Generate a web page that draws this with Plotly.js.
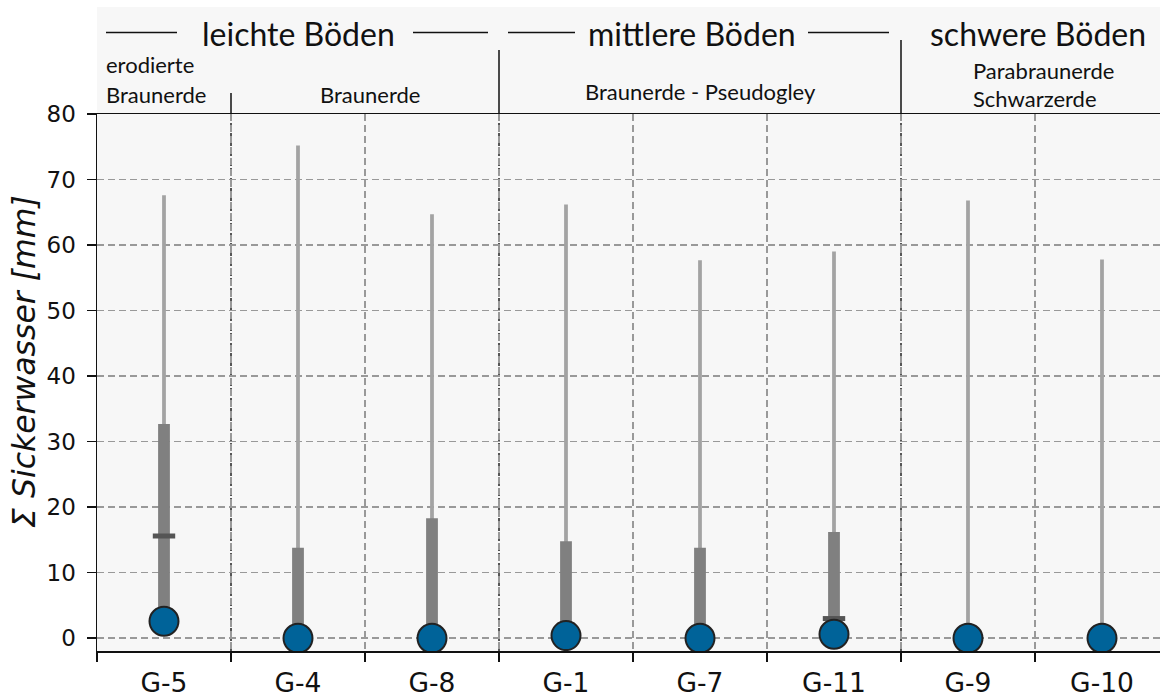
<!DOCTYPE html>
<html>
<head>
<meta charset="utf-8">
<script src="https://cdn.plot.ly/plotly-3.0.1.min.js"></script>
<style>
  html, body { margin: 0; padding: 0; background: #ffffff; }
  #chart { width: 1160px; height: 700px; }
</style>
</head>
<body>
<div id="chart"></div>
<script>
// ---- data ----
const categories  = ['G-5', 'G-4', 'G-8', 'G-1', 'G-7', 'G-11', 'G-9', 'G-10'];
const whiskerLow  = [0.5, 0, 0, 0, 0, 0, 0, 0];
const whiskerHigh = [67.6, 75.2, 64.7, 66.2, 57.7, 59.0, 66.8, 57.8];
const boxLow      = [0.5, 0, 0, 0, 0, 0, 0, 0];
const boxHigh     = [32.7, 13.8, 18.3, 14.8, 13.8, 16.2, 0, 0];
const medians     = [15.6, 0, 0, 0, 0, 3.0, 0, 0];
const points      = [2.6, 0, 0, 0.4, 0, 0.6, 0, 0];
const yTicks      = [0, 10, 20, 30, 40, 50, 60, 70, 80];

const groupTitles   = ['leichte Böden', 'mittlere Böden', 'schwere Böden'];
const groupBoundaries = [0.5, 2.5, 5.5];   // category boundaries (between indices)
const soilLabels = ['erodierte', 'Braunerde', 'Braunerde', 'Braunerde - Pseudogley', 'Parabraunerde', 'Schwarzerde'];

// ---- geometry helpers (layout only) ----
const W = 1160, H = 700;
const M = {l: 97, r: 0, t: 114, b: 49};
const plotW = W - M.l - M.r, plotH = H - M.t - M.b;
const xRange = [-0.5, -0.5 + plotW / 134];
const yRange = [-1.95, 80];
const px = v => (v - M.l) / plotW;          // pixel x -> paper
const py = v => (H - M.b - v) / plotH;      // pixel y -> paper
const idx2paper = i => (i - xRange[0]) / (xRange[1] - xRange[0]);

const whiskerSpan = whiskerHigh.map((v, i) => v - whiskerLow[i]);
const boxSpan = boxHigh.map((v, i) => v - boxLow[i]);

const traces = [
  {
    type: 'bar', x: categories, y: whiskerSpan, base: whiskerLow,
    width: categories.map(() => 0.028),
    marker: {color: '#a3a3a3', line: {width: 0}},
    hoverinfo: 'skip', showlegend: false
  },
  {
    type: 'bar', x: categories, y: boxSpan, base: boxLow,
    width: categories.map(() => 0.088),
    marker: {color: '#808080', line: {width: 0}},
    hoverinfo: 'skip', showlegend: false
  },
  {
    type: 'scatter', mode: 'markers', x: categories, y: medians,
    marker: {symbol: 'line-ew', size: 16, color: '#555555', line: {color: '#555555', width: 5}},
    hoverinfo: 'skip', showlegend: false
  },
  {
    type: 'scatter', mode: 'markers', x: categories, y: points,
    marker: {symbol: 'circle', size: 29, color: '#006399', line: {color: '#222222', width: 2}},
    showlegend: false
  }
];

const headerFont = {family: 'Lato, "Open Sans", sans-serif', size: 32, color: '#111111'};
const subFont = {family: 'Lato, "Open Sans", sans-serif', size: 22, color: '#111111'};

const annotations = [
  {text: groupTitles[0], x: px(298.5), y: py(33), font: headerFont},
  {text: groupTitles[1], x: px(691.5), y: py(33), font: headerFont},
  {text: groupTitles[2], x: px(1037.5), y: py(33), font: headerFont},
  {text: soilLabels[0], x: px(104), y: py(65), xanchor: 'left', font: subFont},
  {text: soilLabels[1], x: px(104), y: py(95), xanchor: 'left', font: subFont},
  {text: soilLabels[2], x: px(370), y: py(95), font: subFont},
  {text: soilLabels[3], x: px(700), y: py(91), font: subFont},
  {text: soilLabels[4], x: px(971), y: py(70), xanchor: 'left', font: subFont},
  {text: soilLabels[5], x: px(971), y: py(99), xanchor: 'left', font: subFont},
  {text: 'Σ Sickerwasser [mm]', x: px(24), y: py(362), textangle: -90,
   font: {family: '"DejaVu Sans", sans-serif', size: 31.5, style: 'italic', color: '#111111'}}
].map(a => Object.assign({xref: 'paper', yref: 'paper', showarrow: false, xanchor: 'center', yanchor: 'middle'}, a));

const shapes = [
  // header background
  {type: 'rect', xref: 'paper', yref: 'paper', x0: 0, x1: 1, y0: 1, y1: py(7),
   fillcolor: '#f7f7f7', line: {width: 0}, layer: 'below'},
  // decorative dashes beside group titles
  ...[[106, 177], [413, 488], [508, 575], [808, 889]].map(([a, b]) => ({
    type: 'line', xref: 'paper', yref: 'paper', x0: px(a), x1: px(b), y0: py(32.5), y1: py(32.5),
    line: {color: '#111111', width: 1.5}, layer: 'above'
  })),
];
// group boundary lines: solid in header, fine dashed in plot
const headerTops = [93, 50, 40];
groupBoundaries.forEach((b, k) => {
  const xp = idx2paper(b);
  shapes.push({type: 'line', xref: 'paper', yref: 'paper', x0: xp, x1: xp, y0: 1, y1: py(headerTops[k]),
    line: {color: '#111111', width: 1.5}, layer: 'above'});
  shapes.push({type: 'line', xref: 'paper', yref: 'paper', x0: xp, x1: xp, y0: 0, y1: 1,
    line: {color: '#111111', width: 1.4, dash: '3px,2px'}, layer: 'between'});
});

const layout = {
  width: W, height: H,
  margin: M,
  paper_bgcolor: '#ffffff',
  plot_bgcolor: '#f7f7f7',
  barmode: 'overlay',
  showlegend: false,
  xaxis: {
    type: 'category', categoryorder: 'array', categoryarray: categories,
    range: xRange, fixedrange: true,
    tickson: 'boundaries', ticks: 'outside', ticklen: 9, tickwidth: 1.5, tickcolor: '#111111',
    showline: true, linecolor: '#111111', linewidth: 1.5, mirror: true,
    showgrid: true, gridcolor: '#999999', gridwidth: 1.6, griddash: '7px,4px',
    tickfont: {family: '"DejaVu Sans", sans-serif', size: 26.5, color: '#111111'},
    ticklabelstandoff: 8
  },
  yaxis: {
    range: yRange, fixedrange: true,
    tickmode: 'array', tickvals: yTicks, ticktext: yTicks.map(String),
    ticks: 'outside', ticklen: 9, tickwidth: 1.5, tickcolor: '#111111',
    showline: true, linecolor: '#111111', linewidth: 1.5,
    showgrid: true, gridcolor: '#999999', gridwidth: 1.6, griddash: '7px,4px',
    zeroline: false,
    tickfont: {family: '"DejaVu Sans", sans-serif', size: 23, color: '#111111'},
    ticklabelstandoff: 6
  },
  annotations: annotations,
  shapes: shapes
};

Plotly.newPlot('chart', traces, layout, {displayModeBar: false, staticPlot: true});
</script>
</body>
</html>
